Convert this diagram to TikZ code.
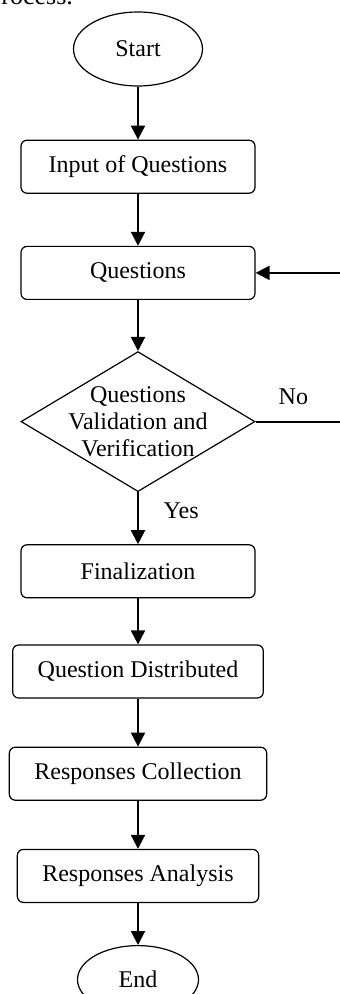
\documentclass[tikz,border=0pt]{standalone}
\usepackage{fontspec}
\setmainfont{Liberation Serif}
\usetikzlibrary{arrows.meta, positioning, shapes.geometric}

\begin{document}
\begin{tikzpicture}[
  x=0.5pt, y=-0.5pt,
  node distance=25pt,
  every node/.style={font=\fontsize{12}{13.5}\selectfont},
  terminal/.style={ellipse, draw, line width=0.6pt, minimum width=64.5pt,
    minimum height=37pt, inner sep=0pt},
  block/.style={rectangle, rounded corners=3pt, draw, line width=0.6pt,
    minimum width=117pt, minimum height=26.5pt, inner xsep=12.5pt, align=center},
  decision/.style={diamond, draw, line width=0.6pt, aspect=1.67,
    minimum width=117pt, minimum height=70pt, inner sep=-4pt, align=center},
  flow/.style={-{Triangle[length=7pt, width=7pt]}, line width=1pt},
]
  \useasboundingbox (0,0) rectangle (339,994);
  % end of the sentence above the chart
  \node[anchor=base east, font=\fontsize{13}{15}\selectfont] (caption) at (80,5) {process.};

  \node[terminal] (start) at (138,49) {Start};
  \node[block, below=26.5pt of start] (input) {Input of Questions};
  \node[block, below=26pt of input] (quest) {Questions};
  \node[decision, below=25.5pt of quest] (valid) {Questions\\Validation and\\Verification};
  \node[block, below=26pt of valid] (final) {Finalization};
  \node[block, below=23pt of final] (distrib) {Question Distributed};
  \node[block, below=24pt of distrib] (collect) {Responses Collection};
  \node[block, below=24pt of collect] (analysis) {Responses Analysis};
  \node[terminal, minimum width=60.5pt, minimum height=34pt, below=21pt of analysis] (end) {End};

  \draw[flow] (start) -- (input);
  \draw[flow] (input) -- (quest);
  \draw[flow] (quest) -- (valid);
  \draw[flow] (valid) -- node[right=9pt, yshift=3.5pt] {Yes} (final);
  \draw[flow] (final) -- (distrib);
  \draw[flow] (distrib) -- (collect);
  \draw[flow] (collect) -- (analysis);
  \draw[flow] (analysis) -- (end);

  % loop back when the check fails
  \coordinate[right=45pt of valid.east] (back);
  \draw[flow] (valid.east) -- node[pos=0.42, above=4.5pt] {No} (back) |- (quest.east);
\end{tikzpicture}
\end{document}
